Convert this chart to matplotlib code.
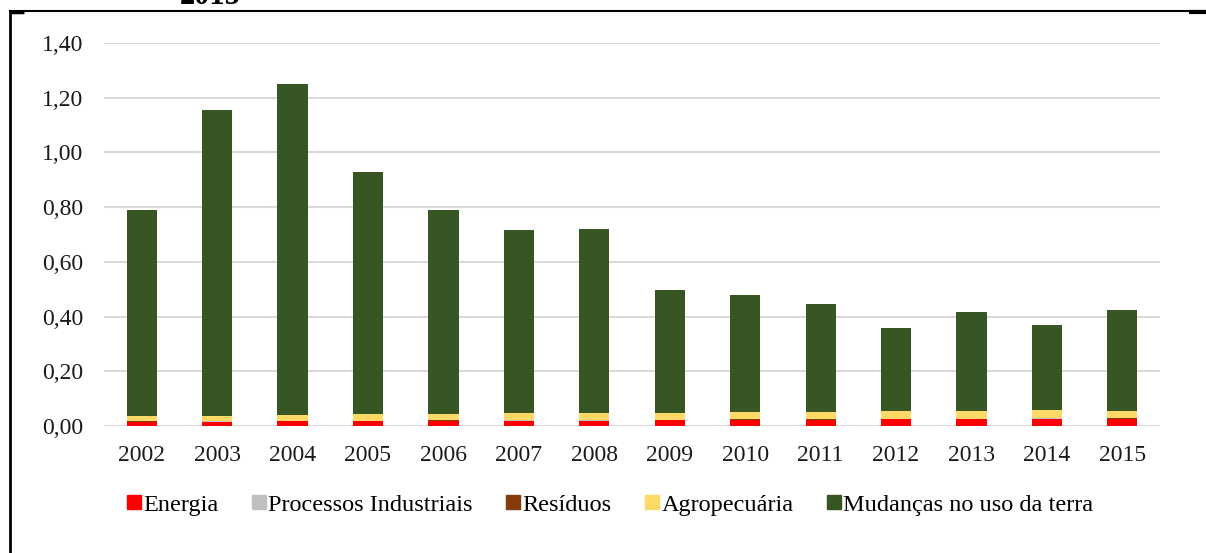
import matplotlib
matplotlib.use("Agg")
import matplotlib.pyplot as plt
from matplotlib.lines import Line2D
import numpy as np

plt.rcParams['font.family'] = ['Liberation Serif', 'DejaVu Serif']

years = ["2002", "2003", "2004", "2005", "2006", "2007", "2008",
         "2009", "2010", "2011", "2012", "2013", "2014", "2015"]
energia = [0.015, 0.016, 0.017, 0.017, 0.019, 0.020, 0.020,
           0.021, 0.022, 0.022, 0.025, 0.025, 0.027, 0.026]
processos = [0.001, 0.001, 0.001, 0.001, 0.001, 0.001, 0.001,
             0.001, 0.001, 0.001, 0.001, 0.001, 0.001, 0.001]
residuos = [0.001, 0.001, 0.001, 0.001, 0.001, 0.001, 0.001,
            0.001, 0.001, 0.001, 0.001, 0.001, 0.001, 0.001]
agropecuaria = [0.018, 0.020, 0.022, 0.024, 0.024, 0.024, 0.025,
                0.025, 0.026, 0.026, 0.027, 0.027, 0.029, 0.028]
mudancas = [0.754, 1.117, 1.209, 0.885, 0.745, 0.670, 0.673,
            0.449, 0.429, 0.396, 0.304, 0.363, 0.312, 0.368]

series = [
    ("Energia", energia, "#ff0000"),
    ("Processos Industriais", processos, "#bfbfbf"),
    ("Resíduos", residuos, "#843c0c"),
    ("Agropecuária", agropecuaria, "#ffd966"),
    ("Mudanças no uso da terra", mudancas, "#375623"),
]

fig = plt.figure(figsize=(12.06, 5.53), dpi=100)
ax = fig.add_axes([0.0862, 0.2297, 0.8757, 0.6925])

x = np.arange(len(years))
bottom = np.zeros(len(years))
for name, vals, color in series:
    ax.bar(x, vals, width=0.4, bottom=bottom, color=color, label=name, zorder=3)
    bottom += np.array(vals)

ax.set_xlim(-0.5, len(years) - 0.5)
ax.set_ylim(0, 1.40)
yt = np.arange(0, 1.41, 0.2)
ax.set_yticks(yt)
ax.set_yticklabels([f"{v:.2f}".replace(".", ",") for v in yt])
ax.set_xticks(x)
ax.set_xticklabels(years)
ax.tick_params(axis='both', length=0, labelsize=17, colors='#1a1a1a')
ax.tick_params(axis='y', pad=15)
ax.tick_params(axis='x', pad=14)
ax.grid(axis='y', color='#d9d9d9', linewidth=1.5, zorder=0)
for s in ax.spines.values():
    s.set_visible(False)

handles = [Line2D([0], [0], marker='s', linestyle='none', markersize=10,
                  markerfacecolor=c, markeredgecolor=c) for _, _, c in series]
fig.legend(handles, [n for n, _, _ in series], loc='center',
           bbox_to_anchor=(0.505, 0.087), ncol=5, frameon=False,
           fontsize=17.5, handletextpad=0.0, columnspacing=1.3,
           handlelength=0.75)

# page frame lines and partial heading above
fig.add_artist(Line2D([10 / 1206, 10 / 1206], [0, 1 - 11 / 553],
                      transform=fig.transFigure, color='black', linewidth=2))
fig.add_artist(Line2D([10 / 1206, 1], [1 - 11 / 553, 1 - 11 / 553],
                      transform=fig.transFigure, color='black', linewidth=1.5))
fig.add_artist(Line2D([11 / 1206, 24 / 1206], [1 - 12 / 553, 1 - 12 / 553],
                      transform=fig.transFigure, color='black', linewidth=2.5,
                      solid_capstyle='butt'))
fig.add_artist(Line2D([1189 / 1206, 1], [1 - 12 / 553, 1 - 12 / 553],
                      transform=fig.transFigure, color='black', linewidth=3,
                      solid_capstyle='butt'))
fig.text(210 / 1206, 1 - 4.5 / 553, "2015", ha='center', va='baseline',
         fontsize=22, fontweight='bold')

fig.savefig("out.png", dpi=100)
